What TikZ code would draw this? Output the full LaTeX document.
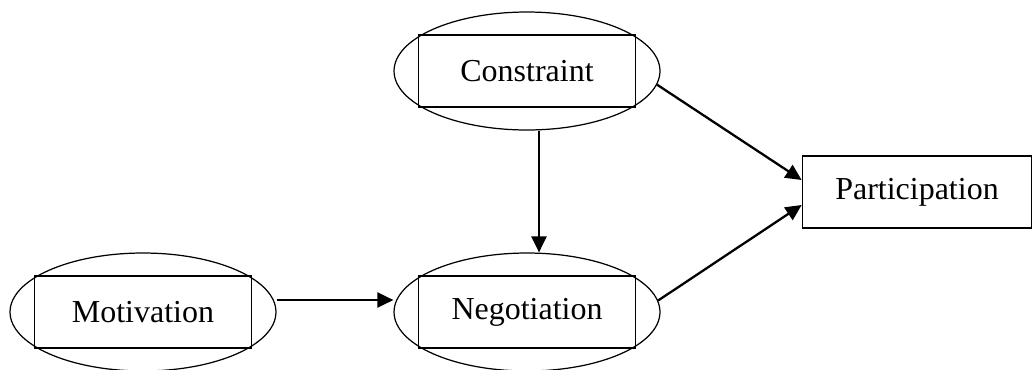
\documentclass[tikz,border=0pt]{standalone}
\usepackage{fontspec}
\setmainfont{Liberation Serif}
\usetikzlibrary{shapes.geometric,arrows.meta}

\tikzset{
  outer/.style={draw, ellipse, line width=0.7pt, minimum width=5.32cm, minimum height=2.36cm, inner sep=0pt},
  inner/.style={draw, rectangle, line width=1pt, minimum width=4.34cm, minimum height=1.44cm, inner sep=0pt,
    font=\fontsize{18.2}{22}\selectfont},
  link/.style={line width=1.3pt, -{Triangle[length=0.32cm,width=0.3cm]}}
}

\begin{document}
\begin{tikzpicture}[x=0.02cm,y=-0.02cm]
        \useasboundingbox (0,0) rectangle (1033,369);

        % Draw the constraint block
        \node[outer] (consout) at (527,71) {};
        \node[inner] (cons) at (527,71) {Constraint};

        % Draw the motivation block
        \node[outer] (motiout) at (143,312) {};
        \node[inner] (moti) at (143,312) {Motivation};

        % Draw the negotiation block
        \node[outer] (negout) at (527,312) {};
        \node[inner] (neg) at (527,312) {Negotiation};

        % Draw the participation box
        \node[inner, minimum width=4.58cm] (part) at (917,192) {Participation};

        % Draw the arrows
        \draw[link] (consout.-6) -- ([yshift=0.24cm]part.west);
        \draw[link] (negout.5) -- ([yshift=-0.26cm]part.west);
        \draw[link] (consout.south -| 539,0) -- (negout.north -| 539,0);
        \draw[link] (motiout.east |- 0,300) -- (negout.west |- 0,300);

    \end{tikzpicture}
\end{document}
